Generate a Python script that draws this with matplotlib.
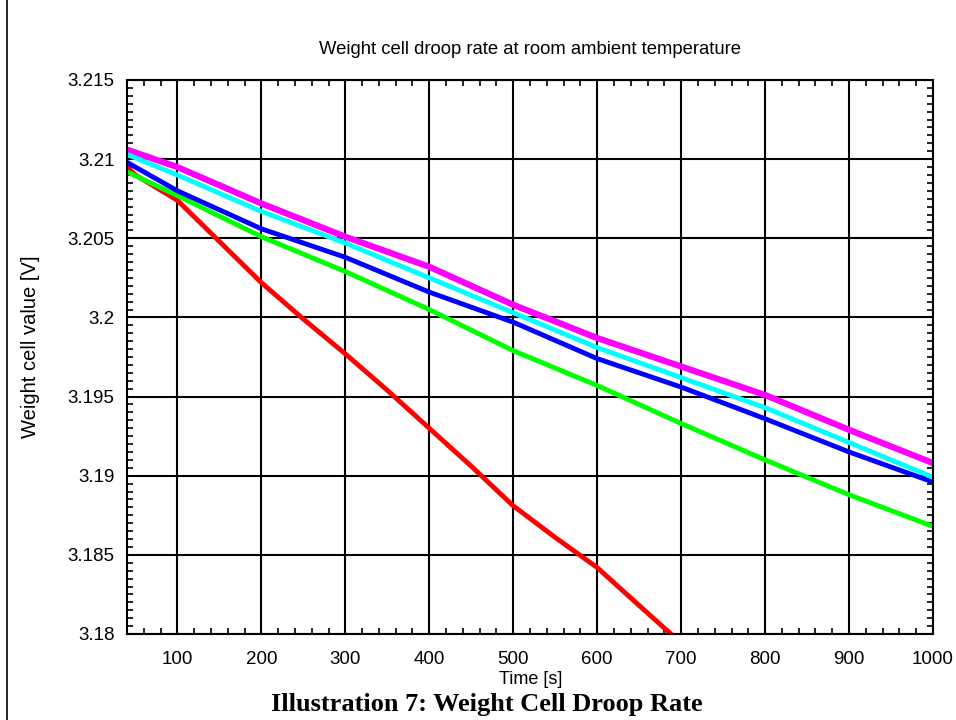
import matplotlib
matplotlib.use("Agg")
import matplotlib.pyplot as plt
from matplotlib.ticker import MultipleLocator, FuncFormatter
from matplotlib.lines import Line2D

# ---- data ----
time_red = [40, 50, 100, 150, 200, 250, 300, 350, 400, 450, 500, 550, 600, 650, 690]
val_red = [3.2095, 3.2090, 3.2074, 3.2048, 3.2022, 3.1999, 3.1977, 3.1954, 3.1930,
           3.1906, 3.1881, 3.1861, 3.1842, 3.1818, 3.1799]

time_all = [40, 100, 200, 300, 400, 500, 600, 700, 800, 900, 1000]
val_green = [3.2092, 3.2077, 3.2051, 3.2029, 3.2005, 3.1979, 3.1957, 3.1933, 3.1910, 3.1888, 3.1868]
val_blue = [3.2098, 3.2080, 3.2056, 3.2038, 3.2016, 3.1997, 3.1974, 3.1956, 3.1936, 3.1915, 3.1896]
val_magenta = [3.2106, 3.2095, 3.2072, 3.2051, 3.2032, 3.2008, 3.1987, 3.1969, 3.1951, 3.1929, 3.1908]
val_cyan = [3.2103, 3.2090, 3.2067, 3.2047, 3.2025, 3.2003, 3.1981, 3.1962, 3.1943, 3.1921, 3.1899]

x_ticks = [100, 200, 300, 400, 500, 600, 700, 800, 900, 1000]
y_ticks = [3.18, 3.185, 3.19, 3.195, 3.2, 3.205, 3.21, 3.215]

title = "Weight cell droop rate at room ambient temperature"
xlabel = "Time [s]"
ylabel = "Weight cell value [V]"
caption = "Illustration 7: Weight Cell Droop Rate"

plt.rcParams['font.family'] = ['Liberation Sans', 'DejaVu Sans']

fig = plt.figure(figsize=(9.56, 7.2), dpi=100)
ax = fig.add_axes([127/956, 1 - 634/720, (933 - 127)/956, (634 - 80)/720])

ax.plot(time_red, val_red, color='#ff0000', lw=3.5, zorder=3)
ax.plot(time_all, val_green, color='#00ff00', lw=3.5, zorder=3)
ax.plot(time_all, val_blue, color='#0000ff', lw=3.5, zorder=3)
ax.plot(time_all, val_magenta, color='#ff00ff', lw=4.5, zorder=3)
ax.plot(time_all, val_cyan, color='#00ffff', lw=3.5, zorder=3)

ax.set_xlim(40, 1000)
ax.set_ylim(3.18, 3.215)
ax.set_xticks(x_ticks)
ax.set_yticks(y_ticks)
ax.yaxis.set_major_formatter(FuncFormatter(lambda v, p: "%g" % round(v, 4)))
ax.xaxis.set_minor_locator(MultipleLocator(20))
ax.yaxis.set_minor_locator(MultipleLocator(0.0005))

ax.tick_params(which='both', direction='in', top=True, right=True, colors='black',
               labelsize=13.5, width=1.2)
ax.tick_params(which='major', length=8, pad=9)
ax.tick_params(axis='x', which='major', pad=12)
ax.tick_params(which='minor', length=4)

ax.grid(True, which='major', color='black', lw=1.5, zorder=1)
for s in ax.spines.values():
    s.set_linewidth(1.5)
    s.set_zorder(4)

fig.text(530/956, 1 - 50/720, title, ha='center', va='center', fontsize=13.3)
fig.text(531/956, 1 - 679/720, xlabel, ha='center', va='center', fontsize=13)
fig.text(31/956, 1 - 347/720, ylabel, ha='center', va='center', rotation=90, fontsize=14.5)
fig.text(487/956, 1 - 705/720, caption, ha='center', va='center', fontsize=19,
         fontweight='bold', family=['Liberation Serif', 'DejaVu Serif'])

fig.add_artist(Line2D([7/956, 7/956], [0, 1], color='black', lw=1.2, transform=fig.transFigure))

fig.savefig("out.png", dpi=100)
